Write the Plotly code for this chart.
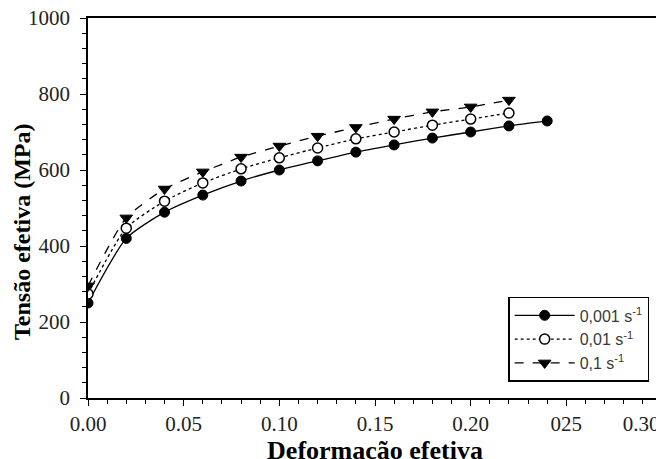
import plotly.graph_objects as go

strain = [0.00, 0.02, 0.04, 0.06, 0.08, 0.10, 0.12, 0.14, 0.16, 0.18, 0.20, 0.22, 0.24]
stress_0001 = [250, 420, 489, 534, 571, 600, 624, 647, 666, 684, 700, 716, 729]
stress_001 = [274, 447, 518, 566, 603, 632, 658, 682, 700, 718, 734, 750]
stress_01 = [295, 474, 550, 595, 634, 663, 689, 712, 734, 753, 766, 784]

names = ["0,001 s<sup>-1</sup>", "0,01 s<sup>-1</sup>", "0,1 s<sup>-1</sup>"]
xtickvals = [0.00, 0.05, 0.10, 0.15, 0.20, 0.25, 0.30]
xticktext = ["0.00", "0.05", "0.10", "0.15", "0.20", "025", "0.30" + "\u00a0" * 8]
ytickvals = [0, 200, 400, 600, 800, 1000]
xtitle = "<b>Deformação efetiva</b>"
ytitle = "<b>Tensão efetiva (MPa)</b>"

serif = "Liberation Serif"

fig = go.Figure()
fig.add_trace(go.Scatter(
    x=strain[:len(stress_0001)], y=stress_0001, name=names[0], mode="lines+markers",
    line=dict(color="black", width=1.3, dash="solid", shape="spline", smoothing=0.6),
    marker=dict(symbol="circle", size=10, color="black", line=dict(color="black", width=1))))
fig.add_trace(go.Scatter(
    x=strain[:len(stress_001)], y=stress_001, name=names[1], mode="lines+markers",
    line=dict(color="black", width=1.3, dash="dot", shape="spline", smoothing=0.6),
    marker=dict(symbol="circle", size=10, color="white", line=dict(color="black", width=1.5))))
fig.add_trace(go.Scatter(
    x=strain[:len(stress_01)], y=stress_01, name=names[2], mode="lines+markers",
    line=dict(color="black", width=1.3, dash="dash", shape="spline", smoothing=0.6),
    marker=dict(symbol="triangle-down", size=11, color="black", line=dict(color="black", width=1))))

fig.update_layout(
    width=664, height=459,
    margin=dict(l=80, r=10, t=10, b=69, autoexpand=False),
    paper_bgcolor="white", plot_bgcolor="white",
    showlegend=True,
    font=dict(family=serif, size=21, color="#222222"),
    legend=dict(
        x=0.732, y=0.266, xanchor="left", yanchor="top",
        bordercolor="black", borderwidth=1.5, bgcolor="white",
        font=dict(family="Liberation Sans", size=16, color="#3a3a3a"),
        itemwidth=60, tracegroupgap=0,
    ),
    annotations=[dict(
        text=ytitle, xref="paper", yref="paper", x=-0.115, y=0.437,
        xanchor="center", yanchor="middle", textangle=-90, showarrow=False,
        font=dict(family=serif, size=24, color="black"),
    )],
)
fig.update_xaxes(
    range=[0, 0.30], tickmode="array", tickvals=xtickvals, ticktext=xticktext,
    ticks="outside", ticklen=6, tickwidth=1.3, tickcolor="black",
    minor=dict(dtick=0.01, ticks="outside", ticklen=4, tickwidth=1.2, tickcolor="black"),
    showline=True, linecolor="black", linewidth=1.5, mirror=True,
    showgrid=False, zeroline=False, automargin=False, ticklabeloverflow="allow",
    tickfont=dict(family=serif, size=21, color="#222222"),
    title=dict(text=xtitle, font=dict(family=serif, size=26, color="black"), standoff=0),
)
fig.update_yaxes(
    range=[0, 1000], tickmode="array", tickvals=ytickvals,
    ticks="outside", ticklen=6, tickwidth=1.3, tickcolor="black",
    minor=dict(dtick=40, ticks="outside", ticklen=4, tickwidth=1.2, tickcolor="black"),
    showline=True, linecolor="black", linewidth=1.5, mirror=True,
    showgrid=False, zeroline=False, automargin=False, ticklabeloverflow="allow",
    ticklabelstandoff=6,
    tickfont=dict(family=serif, size=21, color="#222222"),
)

fig.write_html("out.html")
